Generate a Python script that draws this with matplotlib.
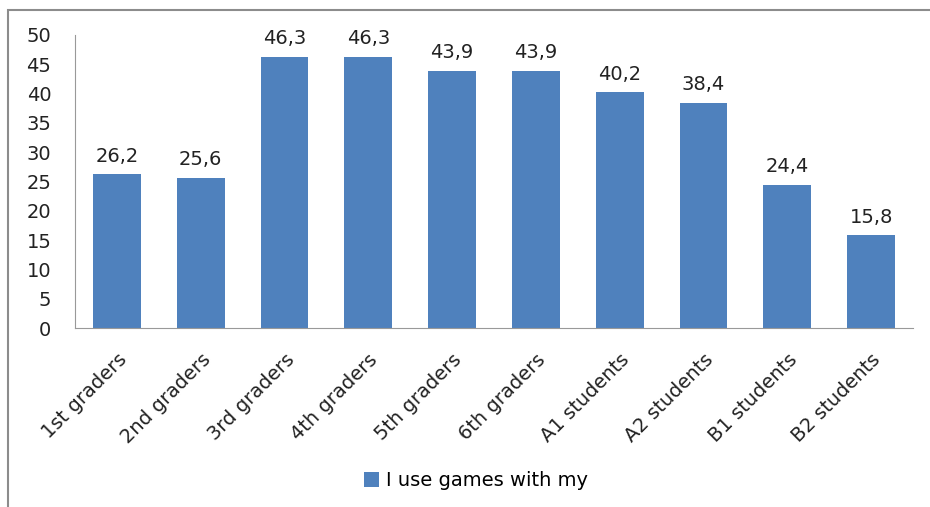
import matplotlib.pyplot as plt
from matplotlib.patches import Rectangle
import numpy as np

categories = ['1st graders', '2nd graders', '3rd graders', '4th graders', '5th graders',
              '6th graders', 'A1 students', 'A2 students', 'B1 students', 'B2 students']
values = [26.2, 25.6, 46.3, 46.3, 43.9, 43.9, 40.2, 38.4, 24.4, 15.8]
series_name = 'I use games with my'

plt.rcParams['font.family'] = ['DejaVu Sans']
fs = 14

fig = plt.figure(figsize=(9.3, 5.07), dpi=100)
# outer chart frame (gray)
fig.patches.append(Rectangle((8/930, -0.05), 1.0, 1 - 10/507 + 0.05, transform=fig.transFigure,
                             fill=False, edgecolor='#8c8c8c', lw=1.5))

ax = fig.add_axes([75/930, 1 - 328/507, (913 - 75)/930, (328 - 35)/507])
x = np.arange(len(categories))
bars = ax.bar(x, values, width=0.57, color='#4F81BD')
for b, v in zip(bars, values):
    ax.text(b.get_x() + b.get_width()/2, v + 1.5, f'{v:.1f}'.replace('.', ','),
            ha='center', va='bottom', fontsize=fs, color='#222222')

ax.set_xlim(-0.5, len(categories) - 0.5)
ax.set_ylim(0, 50)
ax.set_yticks(np.arange(0, 51, 5))
ax.tick_params(axis='y', length=0, labelsize=fs, pad=17, labelcolor='#222222')
ax.tick_params(axis='x', length=0, labelsize=fs, pad=16, labelcolor='#222222')
ax.set_xticks(x)
ax.set_xticklabels(categories, rotation=45, ha='right', rotation_mode='anchor')
for s in ['top', 'right']:
    ax.spines[s].set_visible(False)
ax.spines['left'].set_color('#999999')
ax.spines['bottom'].set_color('#999999')

leg = fig.legend([bars[0]], [series_name], loc='center', bbox_to_anchor=(476/930, 1 - 481/507),
                 frameon=False, fontsize=fs, handlelength=0.8, handleheight=0.8, handletextpad=0.35)

plt.savefig('out.png', dpi=100)
